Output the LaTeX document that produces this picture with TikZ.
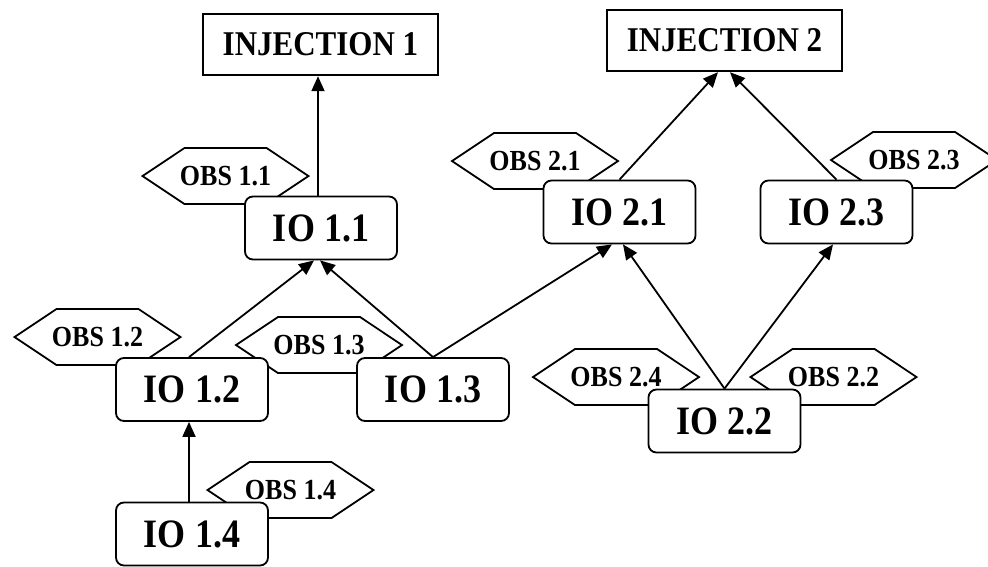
\documentclass[tikz,border=0pt]{standalone}
\usepackage{fontspec}
\setmainfont{Liberation Serif}
\usetikzlibrary{shapes.symbols,arrows.meta}
\newcommand\vstretch[1]{\scalebox{1}[1.12]{#1}}
\tikzset{
  injbox/.style={draw, line width=2.4pt, fill=white, minimum width=235pt,
    minimum height=61pt, inner sep=0pt, font=\bfseries\fontsize{31}{33}\selectfont},
  iobox/.style={draw, line width=1.8pt, fill=white, rounded corners=8pt,
    minimum width=152pt, minimum height=63pt, inner sep=0pt,
    font=\bfseries\fontsize{36}{38}\selectfont},
  obshex/.style={shape=signal, signal to=west and east, signal pointer angle=67.4,
    draw, line width=1.8pt, fill=white, minimum width=20pt, minimum height=56pt,
    inner xsep=-4.5pt, inner ysep=0pt, font=\bfseries\fontsize{26}{28}\selectfont},
  link/.style={line width=1.8pt, -{Triangle[length=15pt,width=13pt]}}
}
\begin{document}
\begin{tikzpicture}[x=1pt, y=-1pt]
\useasboundingbox (0,0) rectangle (988,566);

% observation hexagons (behind the IO boxes)
\node[obshex] (obs11) at (225.5,176) {\vstretch{OBS 1.1}};
\node[obshex] (obs12) at (97.5,337) {\vstretch{OBS 1.2}};
\node[obshex] (obs13) at (319,345) {\vstretch{OBS 1.3}};
\node[obshex] (obs14) at (290.5,490) {\vstretch{OBS 1.4}};
\node[obshex] (obs21) at (535,161) {\vstretch{OBS 2.1}};
\node[obshex] (obs23) at (914,160) {\vstretch{OBS 2.3}};
\node[obshex] (obs24) at (616,377) {\vstretch{OBS 2.4}};
\node[obshex] (obs22) at (833.5,377) {\vstretch{OBS 2.2}};

% IO boxes
\node[iobox] (io11) at (321,228) {\vstretch{IO 1.1}};
\node[iobox] (io12) at (192,389.5) {\vstretch{IO 1.2}};
\node[iobox] (io13) at (433,389.5) {\vstretch{IO 1.3}};
\node[iobox] (io14) at (192,534) {\vstretch{IO 1.4}};
\node[iobox] (io21) at (619.5,212) {\vstretch{IO 2.1}};
\node[iobox] (io23) at (836.5,212) {\vstretch{IO 2.3}};
\node[iobox] (io22) at (724.5,421) {\vstretch{IO 2.2}};

% injections
\node[injbox] (inj1) at (320.5,44.5) {\vstretch{INJECTION 1}};
\node[injbox] (inj2) at (724.5,40.5) {\vstretch{INJECTION 2}};

% connectors
\draw[link] ([xshift=-3pt]io11.north) -- ([xshift=-3pt]io11.north |- inj1.south);
\draw[link] ([xshift=-3pt]io12.north) -- ([xshift=-7pt]io11.south);
\draw[link] (io13.north) -- ([xshift=-1pt]io11.south);
\draw[link] (io13.north) -- ([xshift=-7.5pt]io21.south);
\draw[link] (io22.north) -- ([xshift=3.5pt]io21.south);
\draw[link] (io22.north) -- ([xshift=-3.5pt]io23.south);
\draw[link] (io21.north) -- ([xshift=-6.5pt]inj2.south);
\draw[link] (io23.north) -- ([xshift=5.5pt]inj2.south);
\draw[link] ([xshift=-3pt]io14.north) -- ([xshift=-3pt]io12.south);
\end{tikzpicture}
\end{document}
